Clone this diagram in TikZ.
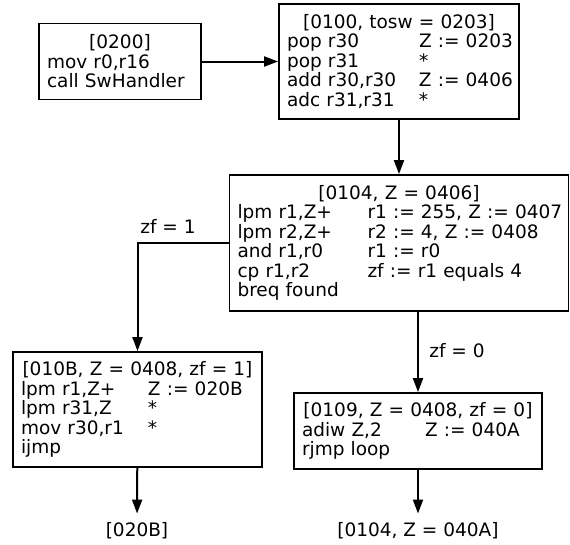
\documentclass[tikz,border=0pt]{standalone}
\usepackage{fontspec}
\setmainfont{DejaVu Sans}
\usetikzlibrary{arrows.meta}
\tikzset{
  >={Triangle[length=14pt,width=10pt]},
  every node/.style={font=\fontsize{18.5}{19.5}\selectfont},
  block/.style={draw,line width=1.8pt,align=left,inner xsep=8pt,inner ysep=0pt},
  arrow/.style={->,line width=2pt},
  exit/.style={inner xsep=0pt,inner ysep=9pt},
  cond/.style={inner sep=1pt},
}
\newcommand{\op}[3][130pt]{\mbox{\makebox[#1][l]{#2}#3}}
\newcommand{\head}[1]{\makebox[\hsize]{#1}}

\begin{document}
\begin{tikzpicture}[x=1pt,y=-1pt]
  \useasboundingbox (0,0) rectangle (570,544);

  \node[block,text width=146pt,minimum height=76pt] (entry) at (120,61.5)
    {\head{[0200]}\\mov r0,r16\\call SwHandler};
  \node[block,text width=224pt,minimum height=115pt] (handler) at (399,61.5)
    {\head{[0100, tosw = 0203]}\\
     \op[132pt]{pop r30}{Z := 0203}\\
     \op[132pt]{pop r31}{*}\\
     \op[132pt]{add r30,r30}{Z := 0406}\\
     \op[132pt]{adc r31,r31}{*}};
  \draw[arrow] (entry) -- (handler);

  \node[block,text width=323pt,minimum height=136pt] (check) at (399,243)
    {\head{[0104, Z = 0406]}\\
     \op{lpm r1,Z+}{r1 := 255, Z := 0407}\\
     \op{lpm r2,Z+}{r2 := 4, Z := 0408}\\
     \op{and r1,r0}{r1 := r0}\\
     \op{cp r1,r2}{zf := r1 equals 4}\\
     breq found};
  \draw[arrow] (handler) -- (check);

  \node[block,text width=233pt,minimum height=115pt] (found) at (137.5,409.5)
    {\head{[010B, Z = 0408, zf = 1]}\\
     \op[127pt]{lpm r1,Z+}{Z := 020B}\\
     \op[127pt]{lpm r31,Z}{*}\\
     \op[127pt]{mov r30,r1}{*}\\
     ijmp};
  \node[block,text width=232pt,minimum height=76pt] (loop) at (418,431)
    {\head{[0109, Z = 0408, zf = 0]}\\
     \op[123pt]{adiw Z,2}{Z := 040A}\\
     rjmp loop};

  \node[cond] (zfone) at (168,226) {zf = 1};
  \node[cond] (zfzero) at (457,351) {zf = 0};
  \draw[arrow] (check.west) -| (found.north);
  \draw[arrow] (check.south -| loop.north) -- (loop.north);

  % where control goes next
  \node[exit] (jump) at (137,531) {[020B]};
  \node[exit] (back) at (418,531) {[0104, Z = 040A]};
  \draw[arrow] (found) -- (jump);
  \draw[arrow] (loop) -- (back);
\end{tikzpicture}
\end{document}
